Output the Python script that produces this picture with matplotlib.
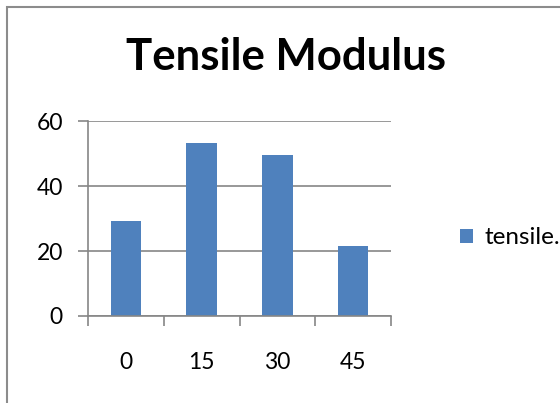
import numpy as np
import matplotlib.pyplot as plt
from matplotlib.patches import Rectangle

# 角度(度)与拉伸模量
angles = ['0', '15', '30', '45']
tensile = [29.2, 53.4, 49.6, 21.6]
yticks = [0, 20, 40, 60]

plt.rcParams['font.family'] = ['Lato', 'DejaVu Sans']
fig = plt.figure(figsize=(5.6, 4.03), dpi=100)
fig.patches.append(Rectangle((6.5 / 560, -0.1), 1.2, 1.1 - 7.5 / 403, transform=fig.transFigure,
                             fill=False, edgecolor='#8c8c8c', lw=1.5))

ax = fig.add_axes([88 / 560, 87 / 403, 303 / 560, 194.7 / 403])
x = np.arange(len(angles))
ax.bar(x, tensile, width=0.4, color='#4f81bd', label='tensile.', zorder=3)
ax.set_xlim(-0.5, len(angles) - 0.5)
ax.set_ylim(0, 60)
ax.set_yticks(yticks)
ax.yaxis.grid(True, color='#868686', lw=1.2, zorder=0)
ax.set_xticks(x)
ax.set_xticklabels(angles)
ax.set_xticks(np.arange(len(angles) + 1) - 0.5, minor=True)
ax.tick_params(axis='x', which='major', length=0, pad=26, labelsize=16.5)
ax.tick_params(axis='x', which='minor', length=7, width=1.2, color='#868686')
ax.tick_params(axis='y', length=7, width=1.2, color='#868686', pad=11, labelsize=16.5)
for s in ['top', 'right']:
    ax.spines[s].set_visible(False)
for s in ['left', 'bottom']:
    ax.spines[s].set_color('#868686')
    ax.spines[s].set_linewidth(1.2)
ax.spines['bottom'].set_zorder(4)

fig.text(286 / 560, 1 - 57 / 403, 'Tensile Modulus', ha='center', va='center',
         fontsize=31.5, fontweight='bold')
fig.legend(loc='center left', bbox_to_anchor=(460 / 560, 1 - 238 / 403), frameon=False,
           fontsize=17.5, handlelength=0.55, handleheight=0.55, handletextpad=0.45,
           borderaxespad=0, borderpad=0)

plt.savefig('out.png')
